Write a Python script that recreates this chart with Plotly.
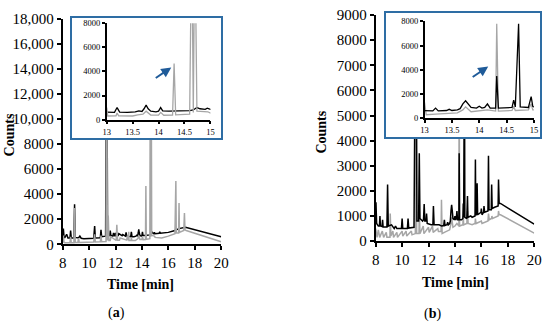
import plotly.graph_objects as go

# ---------------- data ----------------
# Panel (a)
a_black_t = [8.0, 8.05, 8.1, 8.15, 8.3, 8.35, 8.4, 8.55, 8.6, 8.65, 8.85, 8.9, 8.95, 9.2, 9.3, 9.4, 9.6, 10.0,
             10.35, 10.42, 10.47, 10.85, 10.9, 10.95, 11.25, 11.33, 11.4, 11.55, 11.6, 11.65, 11.8, 11.85, 11.95,
             12.0, 12.05, 12.2, 12.25, 12.5, 12.55, 12.75, 12.8, 12.85, 13.0,
             13.15, 13.2, 13.25, 13.4, 13.5, 13.55, 13.62, 13.68, 13.72, 13.76, 13.8, 13.85, 13.95, 14.0, 14.04,
             14.08, 14.2, 14.3, 14.4, 14.55, 14.6, 14.67, 14.74, 14.8, 14.9, 14.94, 14.97, 15.0,
             15.3, 15.35, 15.4, 15.7, 16.0, 16.5, 16.57, 16.6, 16.8, 17.0, 17.3, 20.0]
a_black_c = [550, 1250, 600, 500, 800, 520, 500, 500, 1100, 500, 500, 3200, 550, 500, 650, 480, 450, 460,
             470, 1450, 500, 520, 1150, 600, 650, 20000, 700, 700, 1100, 700, 650, 900, 650,
             900, 680, 700, 850, 680, 780, 650, 950, 650, 600,
             600, 1000, 620, 600, 620, 650, 720, 680, 900, 1200, 900, 700, 650, 700, 1000,
             720, 700, 700, 700, 720, 750, 800, 1000, 900, 850, 950, 880, 850,
             880, 1000, 880, 900, 950, 1100, 1200, 1150, 1250, 1300, 1350, 600]

a_grey_t = [8.0, 8.05, 8.1, 8.15, 8.55, 8.6, 8.65, 8.85, 8.9, 8.95, 9.15, 9.2, 9.25, 10.35, 10.42, 10.47,
            10.85, 10.9, 10.95, 11.28, 11.33, 11.38, 11.45, 11.5, 11.6, 11.65, 12.05, 12.1, 12.15, 12.3, 12.35,
            12.85, 12.9, 12.95, 12.98, 13.0, 13.02, 13.18, 13.2, 13.23, 13.5, 13.6, 13.7, 13.76, 13.85, 14.0,
            14.04, 14.1, 14.27, 14.3, 14.33, 14.6, 14.64, 14.67, 14.7, 14.74, 14.9, 14.95, 15.0, 15.5, 16.0,
            16.5, 16.57, 16.6, 16.78, 16.81, 16.84, 17.17, 17.22, 17.26, 17.35, 20.0]
a_grey_c = [150, 700, 150, 120, 120, 600, 130, 130, 2900, 150, 150, 500, 150, 180, 800, 180,
            200, 700, 200, 220, 20000, 300, 2300, 300, 300, 600, 300, 1550, 330, 330, 500,
            330, 700, 330, 330, 1000, 300, 320, 550, 320, 300, 400, 450, 700, 380, 380,
            600, 360, 380, 4650, 400, 450, 16000, 600, 16000, 700, 620, 650, 550, 500, 650,
            850, 5050, 900, 900, 3300, 950, 1100, 2500, 1150, 1100, 200]

# Panel (b)
b_black_t = [8.0, 8.02, 8.07, 8.2, 8.28, 8.32, 8.36, 8.48, 8.52, 8.56, 8.85, 8.9, 8.95, 9.2, 9.4, 9.5, 9.6, 9.95,
             10.0, 10.05, 10.4, 10.45, 10.5, 10.9, 11.05, 11.12, 11.25, 11.3, 11.35, 11.55, 11.62, 11.67, 11.72,
             11.82, 11.85, 11.9, 12.2, 12.33, 12.37, 12.42, 12.8, 13.0,
             13.15, 13.2, 13.25, 13.4, 13.45, 13.5, 13.6, 13.65, 13.7, 13.75, 13.8, 13.85, 13.95, 14.0, 14.05,
             14.1, 14.15, 14.2, 14.3, 14.32, 14.35, 14.5, 14.6, 14.63, 14.66, 14.72, 14.75, 14.9, 14.95, 14.98,
             15.0, 15.2, 15.3, 15.52, 15.55, 15.58, 15.65, 15.68, 15.72, 15.97, 16.0, 16.05, 16.17, 16.2, 16.25,
             16.5, 16.54, 16.58, 16.75, 16.78, 16.82, 17.0, 17.27, 17.3, 17.35, 17.45, 20.0]
b_black_c = [700, 1550, 700, 600, 600, 1000, 600, 580, 850, 560, 560, 2250, 600, 650, 500, 600, 500, 500,
             900, 500, 500, 900, 520, 550, 12000, 800, 800, 3500, 900, 800, 850, 1480, 800,
             800, 1100, 700, 650, 650, 1400, 650, 650, 600,
             620, 850, 620, 650, 750, 650, 700, 800, 1200, 1450, 1200, 900, 850, 1000, 850,
             900, 1200, 850, 850, 3500, 850, 850, 900, 1500, 950, 7800, 950, 900, 1800, 1000,
             950, 1000, 950, 1000, 3250, 1050, 1050, 2300, 1050, 1150, 1300, 1050, 1150, 1400, 1150,
             1200, 3400, 1250, 1250, 2250, 1300, 1350, 1400, 2450, 1500, 1500, 680]

b_grey_t = [8.0, 8.1, 8.2, 8.3, 8.5, 8.6, 8.8, 8.85, 9.08, 9.1, 9.15, 9.3, 9.35, 9.6, 9.65, 10.0, 10.05,
            10.3, 10.35, 10.7, 10.75, 11.0, 11.05, 11.1, 11.28, 11.3, 11.35, 11.6, 11.65, 12.0, 12.05, 12.3,
            12.35, 12.7, 12.75, 12.95, 12.98, 13.0, 13.03, 13.2, 13.45, 13.6, 13.7, 13.75, 13.85, 14.0, 14.15,
            14.3, 14.32, 14.35, 14.6, 14.63, 14.66, 14.9, 14.95, 14.98, 15.0, 15.3, 15.52, 15.55, 15.6, 16.0,
            16.05, 16.5, 16.54, 16.6, 16.77, 16.8, 16.85, 17.27, 17.3, 17.35, 17.45, 20.0]
b_grey_c = [500, 150, 450, 150, 400, 150, 350, 150, 150, 1100, 200, 400, 150, 350, 150, 400, 200,
            400, 200, 400, 250, 300, 6000, 300, 300, 1200, 300, 600, 300, 550, 350, 600,
            350, 500, 380, 380, 1650, 1250, 300, 350, 400, 450, 700, 950, 550, 600, 700,
            600, 7800, 600, 650, 1000, 650, 700, 1200, 700, 700, 650, 700, 900, 700, 800,
            700, 800, 1100, 850, 900, 1000, 900, 1000, 1200, 1050, 1050, 320]

x_main_ticks = [8, 10, 12, 14, 16, 18, 20]
a_y_ticks = [0, 2000, 4000, 6000, 8000, 10000, 12000, 14000, 16000, 18000]
a_y_text = ["0", "2000", "4000", "6000", "8000", "10,000", "12,000", "14,000", "16,000", "18,000"]
b_y_ticks = [0, 1000, 2000, 3000, 4000, 5000, 6000, 7000, 8000, 9000]
inset_x_ticks = [13, 13.5, 14, 14.5, 15]
inset_x_text = ["13", "13.5", "14", "14.5", "15"]
inset_y_ticks = [0, 2000, 4000, 6000, 8000]

# ---------------- layout helpers ----------------
W, H = 550, 330
def fx(p): return p / W
def fy(p): return 1 - p / H

SERIF = "Liberation Serif"
BLACK = "#000000"
GREY = "#a6a6a6"
BLUE = "#2e6da4"
MAIN_FS = 15
INSET_FS = 8.5

fig = go.Figure()

def line(t, c, xa, ya, color, w):
    fig.add_trace(go.Scatter(x=t, y=c, xaxis=xa, yaxis=ya, mode="lines",
                             line=dict(color=color, width=w), showlegend=False,
                             hoverinfo="skip"))

# main (a): black below grey
line(a_black_t, a_black_c, "x", "y", BLACK, 1.5)
line(a_grey_t, a_grey_c, "x", "y", GREY, 1.5)
# main (b): grey below black
line(b_grey_t, b_grey_c, "x2", "y2", GREY, 1.5)
line(b_black_t, b_black_c, "x2", "y2", BLACK, 1.5)
# frames (empty)
fig.add_trace(go.Scatter(x=[None], y=[None], xaxis="x3", yaxis="y3", showlegend=False))
fig.add_trace(go.Scatter(x=[None], y=[None], xaxis="x4", yaxis="y4", showlegend=False))
# insets
line(a_black_t, a_black_c, "x5", "y5", BLACK, 1.3)
line(a_grey_t, a_grey_c, "x5", "y5", GREY, 1.3)
line(b_grey_t, b_grey_c, "x6", "y6", GREY, 1.3)
line(b_black_t, b_black_c, "x6", "y6", BLACK, 1.3)

def axis(domain, rng, tickvals, ticktext, anchor, size, lw, tl):
    d = dict(domain=domain, range=rng, anchor=anchor, tickmode="array", tickvals=tickvals,
             showline=True, linewidth=lw, linecolor=BLACK, ticks="outside", ticklen=tl,
             tickwidth=lw, tickcolor=BLACK, showgrid=False, zeroline=False,
             tickfont=dict(family=SERIF, size=size, color=BLACK), fixedrange=True)
    if ticktext is not None:
        d["ticktext"] = ticktext
    return d

def overlay(over, anchor, rng, tickvals, lw, tl):
    return dict(overlaying=over, anchor=anchor, range=rng, tickmode="array", tickvals=tickvals,
                ticks="inside", ticklen=tl, tickwidth=lw, tickcolor=BLACK, showticklabels=False,
                showline=False, showgrid=False, zeroline=False, fixedrange=True)

def frame(domain, anchor):
    return dict(domain=domain, anchor=anchor, range=[0, 1],
                showline=True, mirror=True, linewidth=2, linecolor=BLUE, ticks="",
                showticklabels=False, showgrid=False, zeroline=False, fixedrange=True)

a_xd = [fx(60), fx(222)]; a_yd = [fy(248.3), fy(11.7)]
b_xd = [fx(380), fx(542)]; b_yd = [fy(245), fy(7.5)]
fa_xd = [fx(70), fx(222)]; fa_yd = [fy(136.7), fy(10)]
fb_xd = [fx(391), fx(548)]; fb_yd = [fy(136), fy(5)]
ia_xd = [fx(105), fx(211)]; ia_yd = [fy(117.3), fy(16)]
ib_xd = [fx(430), fx(541.7)]; ib_yd = [fy(116), fy(14)]

layout = dict(
    width=W, height=H, margin=dict(l=0, r=0, t=0, b=0),
    paper_bgcolor="white", plot_bgcolor="white", showlegend=False,
    font=dict(family=SERIF, color=BLACK),
    xaxis=axis(a_xd, [8, 20], x_main_ticks, None, "y", MAIN_FS, 2, 4),
    yaxis=axis(a_yd, [0, 18000], a_y_ticks, a_y_text, "x", MAIN_FS, 2, 4),
    xaxis2=axis(b_xd, [8, 20], x_main_ticks, None, "y2", MAIN_FS, 2, 4),
    yaxis2=axis(b_yd, [0, 9000], b_y_ticks, None, "x2", MAIN_FS, 2, 4),
    xaxis3=frame(fa_xd, "y3"), yaxis3=frame(fa_yd, "x3"),
    xaxis4=frame(fb_xd, "y4"), yaxis4=frame(fb_yd, "x4"),
    xaxis5=axis(ia_xd, [13, 15], inset_x_ticks, inset_x_text, "y5", INSET_FS, 1.5, 3),
    yaxis5=axis(ia_yd, [0, 8000], inset_y_ticks, None, "x5", INSET_FS, 1.5, 3),
    xaxis6=axis(ib_xd, [13, 15], inset_x_ticks, inset_x_text, "y6", INSET_FS, 1.5, 3),
    yaxis6=axis(ib_yd, [0, 8000], inset_y_ticks, None, "x6", INSET_FS, 1.5, 3),
    xaxis7=overlay("x", "y", [8, 20], x_main_ticks, 2, 4),
    yaxis7=overlay("y", "x", [0, 18000], a_y_ticks, 2, 4),
    xaxis8=overlay("x2", "y2", [8, 20], x_main_ticks, 2, 4),
    yaxis8=overlay("y2", "x2", [0, 9000], b_y_ticks, 2, 4),
    xaxis9=overlay("x5", "y5", [13, 15], inset_x_ticks, 1.5, 3),
    yaxis9=overlay("y5", "x5", [0, 8000], inset_y_ticks, 1.5, 3),
    xaxis10=overlay("x6", "y6", [13, 15], inset_x_ticks, 1.5, 3),
    yaxis10=overlay("y6", "x6", [0, 8000], inset_y_ticks, 1.5, 3),
)
fig.update_layout(**layout)

ann = []
def text(x, y, s, size=14, angle=0):
    ann.append(dict(x=fx(x), y=fy(y), xref="paper", yref="paper", text=s, showarrow=False,
                    textangle=angle, font=dict(family=SERIF, size=size, color=BLACK),
                    xanchor="center", yanchor="middle"))
text(6, 133, "<b>Counts</b>", 14, -90)
text(325, 130, "<b>Counts</b>", 14, -90)
text(140, 291, "<b>Time [min]</b>", 14)
text(462, 288, "<b>Time [min]</b>", 14)
text(115, 321, "(<b>a</b>)", 14)
text(438, 322, "(<b>b</b>)", 14)
for hx, hy, tx, ty in [(171, 62.5, 154, 74), (495, 61.5, 478, 73)]:
    ann.append(dict(x=fx(hx), y=fy(hy), xref="paper", yref="paper", text="", showarrow=True,
                    ax=tx - hx, ay=ty - hy, arrowhead=2, arrowsize=1, arrowwidth=2,
                    arrowcolor="#1f5b99"))
fig.update_layout(annotations=ann)

fig.write_html("out.html", config={"displayModeBar": False},
               post_script="document.body.style.margin='0';document.body.style.overflow='hidden';")
